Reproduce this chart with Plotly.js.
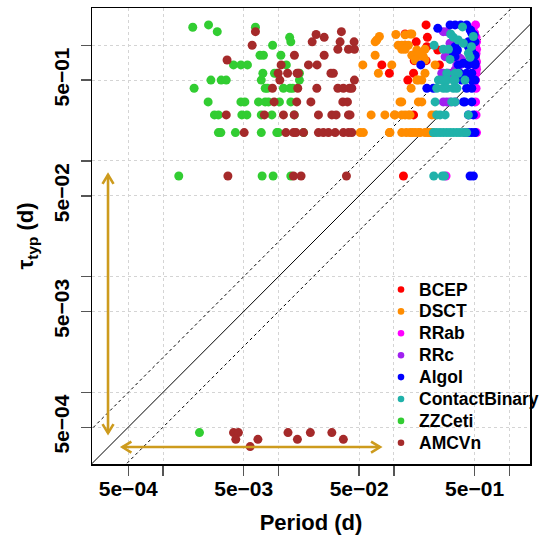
<!DOCTYPE html>
<html><head><meta charset="utf-8">
<script src="https://cdn.plot.ly/plotly-3.0.1.min.js"></script>
<style>html,body{margin:0;padding:0;background:#fff}#plot{width:545px;height:538px}</style>
</head><body><div id="plot"></div>
<script>
// ---- categories / colours ----
const classNames  = ["BCEP","DSCT","RRab","RRc","Algol","ContactBinary","ZZCeti","AMCVn"];
const classColors = ["#FF0000","#FF8C00","#FF00FF","#A020F0","#0000FF","#20B2AA","#32CD32","#A52A2A"];

// ---- axis ticks ----
const tickVals      = [5e-4, 5e-3, 5e-2, 5e-1];
const tickLabels    = ["5e\u221204", "5e\u221203", "5e\u221202", "5e\u221201"];
const minorTickVals = [1e-3, 1e-2, 1e-1, 1];

// ---- data: Period (d) and tau_typ (d) per class ----
const bcepP   = [0.190, 0.125, 0.195, 0.156, 0.125, 0.193, 0.240, 0.146, 0.150, 0.190, 0.0786, 0.248, 0.0914, 0.148, 0.132, 0.148, 0.121];
const bcepTau = [1.50,  1.25,  1.17,  1.07,  1.00,  0.973, 0.91,  0.82,  0.736, 0.736, 0.676,  0.676, 0.573,  0.573, 0.50,  0.25,  0.0742];

const dsctP   = [0.104, 0.138, 0.143, 0.125, 0.0749, 0.0711, 0.0688,
                 0.109, 0.117, 0.125, 0.1335, 0.117, 0.125, 0.186, 0.158,
                 0.0688, 0.143, 0.169, 0.163, 0.180, 0.153, 0.186,
                 0.0538, 0.0959, 0.2275, 0.0734, 0.186, 0.163, 0.1745, 0.158, 0.141,
                 0.113, 0.117, 0.163, 0.1745,
                 0.0635, 0.0836, 0.101, 0.1024, 0.117, 0.125, 0.1335, 0.138, 0.213, 0.2275,
                 0.051, 0.0544, 0.0914, 0.0925, 0.117, 0.128, 0.138, 0.145, 0.153, 0.163, 0.169, 0.186, 0.197, 0.206, 0.21, 0.22];
const dsctTau = [1.24, 1.25, 1.25, 1.23, 1.19, 1.11, 1.07,
                 1.00, 1.00, 1.00, 1.00, 0.923, 0.923, 0.923, 0.91,
                 0.82, 0.82, 0.82, 0.82, 0.797, 0.745, 0.745,
                 0.676, 0.676, 0.676, 0.573, 0.573, 0.50, 0.50, 0.50, 0.425,
                 0.324, 0.324, 0.324, 0.324,
                 0.25, 0.25, 0.25, 0.25, 0.25, 0.25, 0.25, 0.25, 0.25, 0.25,
                 0.176, 0.176, 0.176, 0.176, 0.176, 0.176, 0.176, 0.176, 0.176, 0.176, 0.176, 0.176, 0.176, 0.176, 0.176, 0.176];

const rrabP   = [0.51, 0.50, 0.515, 0.52, 0.51, 0.52, 0.515, 0.51, 0.52, 0.515, 0.52, 0.515, 0.51, 0.515, 0.51, 0.515, 0.52, 0.283];
const rrabTau = [1.50, 1.28, 1.17,  1.07, 1.00, 0.923, 0.85, 0.79, 0.72, 0.66, 0.62, 0.573, 0.50, 0.425, 0.324, 0.25, 0.176, 0.0742];

const rrcP   = [0.268, 0.287, 0.3065, 0.317, 0.287, 0.351, 0.278, 0.374, 0.361, 0.387, 0.387, 0.351, 0.374, 0.339,
                0.26, 0.287, 0.339, 0.361, 0.268, 0.297, 0.268, 0.287, 0.339, 0.3065, 0.4125];
const rrcTau = [1.31, 1.31, 1.04, 0.94, 0.88, 0.82, 0.797, 0.772, 0.745, 0.745, 0.699, 0.676, 0.676, 0.612,
                0.573, 0.573, 0.573, 0.573, 0.573, 0.573, 0.324, 0.324, 0.324, 0.324, 0.176];

const algolP   = [0.24, 0.3065, 0.339, 0.379, 0.427, 0.4635, 0.495, 0.421, 0.466, 0.355, 0.473, 0.339, 0.40, 0.457, 0.505, 0.171,
                  0.3735, 0.427, 0.473, 0.387, 0.473, 0.193, 0.22, 0.427, 0.473, 0.40, 0.473, 0.442, 0.488, 0.442, 0.473, 0.505,
                  0.442, 0.505, 0.339, 0.442, 0.3275, 0.473, 0.505, 0.361, 0.442, 0.505, 0.505, 0.4125, 0.457, 0.473, 0.457, 0.488];
const algolTau = [1.40, 1.50, 1.50, 1.50, 1.50, 1.34, 1.23, 1.04, 1.04, 0.91, 0.88, 0.797, 0.699, 0.699, 0.699, 0.676,
                  0.573, 0.573, 0.573, 0.50, 0.50, 0.425, 0.425, 0.425, 0.425, 0.324, 0.324, 0.25, 0.25, 0.176, 0.176, 0.176,
                  1.07, 1.07, 0.97, 0.97, 0.853, 0.82, 0.82, 0.676, 0.676, 0.676, 0.50, 0.324, 1.36, 1.27, 0.0742, 0.0742];

const cbP   = [0.393, 0.31, 0.3275, 0.361, 0.40, 0.223, 0.268, 0.297, 0.47, 0.488, 0.3065, 0.457, 0.442,
               0.287, 0.339, 0.361,
               0.243, 0.26, 0.287, 0.3275, 0.339, 0.4125,
               0.235, 0.268, 0.287, 0.3275, 0.351,
               0.2275, 0.317, 0.339,
               0.235, 0.251, 0.278, 0.442,
               0.22, 0.235, 0.251, 0.268, 0.287, 0.3065, 0.3275, 0.351, 0.374, 0.40, 0.427,
               0.2215, 0.263, 0.274];
const cbTau = [1.44, 1.25, 1.17, 1.11, 1.04, 1.00, 0.923, 0.923, 0.973, 1.19, 0.755, 0.788, 0.853,
               0.573, 0.573, 0.573,
               0.50, 0.50, 0.50, 0.50, 0.50, 0.50,
               0.425, 0.425, 0.425, 0.425, 0.425,
               0.324, 0.324, 0.324,
               0.25, 0.25, 0.25, 0.25,
               0.176, 0.176, 0.176, 0.176, 0.176, 0.176, 0.176, 0.176, 0.176, 0.176, 0.176,
               0.0742, 0.0742, 0.0742];

const zzP   = [0.00181, 0.00248, 0.00295, 0.00632, 0.0089, 0.0125, 0.0128,
               0.00692, 0.00741, 0.0105,
               0.00408, 0.00473, 0.00539, 0.0117,
               0.00733, 0.00924, 0.00968, 0.0152,
               0.0026, 0.00319, 0.00353, 0.0071, 0.0152,
               0.00186, 0.00768, 0.00803, 0.01105, 0.0126, 0.0133,
               0.00246, 0.00473, 0.00512, 0.00672, 0.00768, 0.00819, 0.0102, 0.0128,
               0.00279, 0.00302, 0.00482, 0.00533, 0.0071, 0.00877, 0.0137,
               0.00302, 0.00317, 0.00424, 0.0071, 0.00968, 0.0100, 0.0165,
               0.00137, 0.00722, 0.00899, 0.0128,
               0.00207];
const zzTau = [1.43, 1.50, 1.31, 1.43, 1.00, 1.17, 1.07,
               0.82, 0.82, 0.82,
               0.676, 0.676, 0.676, 0.676,
               0.573, 0.573, 0.573, 0.573,
               0.50, 0.50, 0.50, 0.50, 0.50,
               0.425, 0.425, 0.425, 0.425, 0.425, 0.425,
               0.324, 0.324, 0.324, 0.324, 0.324, 0.324, 0.324, 0.324,
               0.25, 0.25, 0.25, 0.25, 0.25, 0.25, 0.25,
               0.176, 0.176, 0.176, 0.176, 0.176, 0.176, 0.176,
               0.0742, 0.0742, 0.0742, 0.0742,
               0.000449];

const amP   = [0.00632, 0.0351, 0.0212, 0.0249, 0.0196, 0.0342, 0.0452, 0.00592,
               0.0327, 0.0404, 0.0455, 0.01375, 0.0249, 0.00359,
               0.01055, 0.0182, 0.0216,
               0.00994, 0.012, 0.0145, 0.0149, 0.0285, 0.0299,
               0.01028, 0.0455,
               0.00887, 0.0147, 0.0215, 0.0327, 0.0365, 0.0412, 0.0432,
               0.00918, 0.0144, 0.0191, 0.0361, 0.0396,
               0.00353, 0.00755, 0.01105, 0.0137, 0.0222, 0.029, 0.0316, 0.0404, 0.0417,
               0.00505, 0.0116, 0.0135, 0.0142, 0.0165, 0.0222, 0.0245, 0.0271, 0.031, 0.0365, 0.0404, 0.0432,
               0.00365, 0.0135, 0.0157, 0.0388,
               0.00408, 0.0045, 0.0121, 0.0189, 0.029,
               0.00427, 0.00664, 0.0146, 0.0365,
               0.00569];
const amTau = [1.31, 1.31, 1.24, 1.17, 1.07, 1.07, 1.07, 1.00,
               0.923, 0.923, 0.923, 0.82, 0.82, 0.745,
               0.676, 0.676, 0.676,
               0.573, 0.573, 0.573, 0.573, 0.573, 0.573,
               0.50, 0.50,
               0.425, 0.425, 0.425, 0.425, 0.425, 0.425, 0.425,
               0.324, 0.324, 0.324, 0.324, 0.324,
               0.25, 0.25, 0.25, 0.25, 0.25, 0.25, 0.25, 0.25, 0.25,
               0.176, 0.176, 0.176, 0.176, 0.176, 0.176, 0.176, 0.176, 0.176, 0.176, 0.176, 0.176,
               0.0742, 0.0742, 0.0742, 0.0742,
               0.000449, 0.000449, 0.000449, 0.000449, 0.000449,
               0.000393, 0.000393, 0.000393, 0.000393,
               0.00034];

// reference lines tau = k * P
const refLineP = [1e-5, 10];
const refFactors = [1, 2, 0.5];

// arrows (range limits, d)
const arrowLo = 4.45e-4;
const arrowHi = 0.0759;
const arrowVertP = 3.34e-4;
const arrowHorzTau = 3.37e-4;

const series = [
  [bcepP, bcepTau], [dsctP, dsctTau], [rrabP, rrabTau], [rrcP, rrcTau],
  [algolP, algolTau], [cbP, cbTau], [zzP, zzTau], [amP, amTau]
];

const FONT = "Liberation Sans, Arial, Helvetica, sans-serif";
const traces = [];

refFactors.forEach((k, i) => {
  traces.push({
    x: refLineP, y: refLineP.map(v => v * k), mode: "lines", type: "scatter",
    line: {color: "#000", width: 1, dash: k === 1 ? "solid" : "3px,3px"},
    hoverinfo: "skip", showlegend: false
  });
});

series.forEach((s, i) => {
  traces.push({
    x: s[0], y: s[1], mode: "markers", type: "scatter", name: classNames[i],
    marker: {color: classColors[i], size: 9, line: {width: 0}},
    showlegend: false, cliponaxis: true
  });
});

// custom legend
const L = 92, R = 530, T = 8, B = 464;
const W = R - L, H = B - T;
const px2x = p => (p - L) / W;
const py2y = p => (B - p) / H;
const legTop = 289.5, legStep = 21.9, legMarkX = 401, legTextX = 416.5;

const annotations = [];
const shapes = [];
classNames.forEach((n, i) => {
  const yy = py2y(legTop + i * legStep);
  annotations.push({
    xref: "paper", yref: "paper", x: px2x(legTextX), y: yy, xanchor: "left", yanchor: "middle",
    text: n, showarrow: false, font: {family: FONT, size: 17.5, color: "#000", weight: "bold"}
  });
  shapes.push({
    type: "circle", xref: "paper", yref: "paper", xsizemode: "pixel", ysizemode: "pixel",
    xanchor: px2x(legMarkX), yanchor: yy, x0: -3.3, x1: 3.3, y0: -3.3, y1: 3.3,
    fillcolor: classColors[i], line: {width: 0}
  });
});

// double arrows: shafts (data coords) + chevron heads (pixel-size paths anchored at tips)
const arrowColor = "#CD9B1D";
const AW = 2.6;
shapes.push({type: "line", xref: "x", yref: "y", x0: arrowVertP, x1: arrowVertP, y0: arrowLo, y1: arrowHi,
  line: {color: arrowColor, width: AW}});
shapes.push({type: "line", xref: "x", yref: "y", x0: arrowLo, x1: arrowHi, y0: arrowHorzTau, y1: arrowHorzTau,
  line: {color: arrowColor, width: AW}});
const headL = 9, headW = 5.5;
function head(xa, ya, path) {
  shapes.push({type: "path", xref: "x", yref: "y", xsizemode: "pixel", ysizemode: "pixel",
    xanchor: xa, yanchor: ya, path: path, line: {color: arrowColor, width: AW}});
}
head(arrowVertP, arrowHi, `M ${-headW},${-headL} L 0,0 L ${headW},${-headL}`);
head(arrowVertP, arrowLo, `M ${-headW},${headL} L 0,0 L ${headW},${headL}`);
head(arrowLo, arrowHorzTau, `M ${headL},${headW} L 0,0 L ${headL},${-headW}`);
head(arrowHi, arrowHorzTau, `M ${-headL},${headW} L 0,0 L ${-headL},${-headW}`);

const gridStyle = {showgrid: true, gridcolor: "#d4d4d4", griddash: "dot", gridwidth: 1};
const axisCommon = Object.assign({
  type: "log", tickmode: "array", tickvals: tickVals, ticktext: tickLabels,
  ticks: "outside", ticklen: 10, tickwidth: 1.4, tickcolor: "#555",
  showline: true, mirror: true, linecolor: "#000", linewidth: 1.5,
  zeroline: false, automargin: false,
  tickfont: {family: FONT, size: 21, color: "#000", weight: "bold"},
  minor: Object.assign({tickmode: "array", tickvals: minorTickVals, ticks: "outside",
                        ticklen: 10, tickwidth: 1.4, tickcolor: "#555"}, gridStyle)
}, gridStyle);

const layout = {
  width: 545, height: 538,
  margin: {l: L, r: 545 - R, t: T, b: 538 - B},
  paper_bgcolor: "#fff", plot_bgcolor: "#fff",
  showlegend: false,
  xaxis: Object.assign({}, axisCommon, {
    range: [-3.615, 0.179], ticklabelstandoff: -5,
    title: {text: "Period (d)", font: {family: FONT, size: 22, color: "#000", weight: "bold"}, standoff: 16}
  }),
  yaxis: Object.assign({}, axisCommon, {
    range: [-3.619, 0.322], tickangle: -90, ticklabelstandoff: 3,
    title: {text: "\u03c4<sub>typ</sub> (d)", font: {family: FONT, size: 22, color: "#000", weight: "bold"}, standoff: 10}
  }),
  annotations: annotations,
  shapes: shapes
};

Plotly.newPlot("plot", traces, layout, {staticPlot: true, displayModeBar: false});
</script>
</body></html>
